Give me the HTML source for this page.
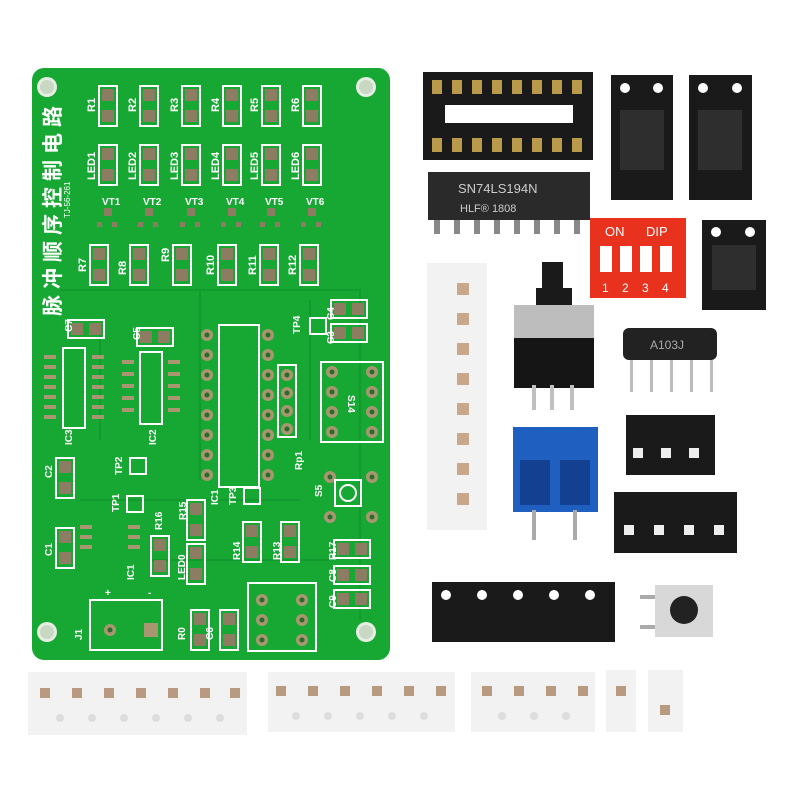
<!DOCTYPE html>
<html><head><meta charset="utf-8"><style>
html,body{margin:0;padding:0;background:#fff;width:800px;height:800px;overflow:hidden}
svg{display:block}
text{font-family:"Liberation Sans","Noto Sans CJK SC",sans-serif}
</style></head><body>
<svg width="800" height="800" viewBox="0 0 800 800" xmlns="http://www.w3.org/2000/svg">
<defs>
<g id="pp"><rect x="-9" y="0" width="18" height="40" fill="none" stroke="#fff" stroke-width="2"/><rect x="-6" y="3" width="12" height="12" fill="#8c7d62"/><rect x="-6" y="24" width="12" height="12" fill="#8c7d62"/></g>
<g id="hp"><rect x="-9" y="0" width="36" height="18" fill="none" stroke="#fff" stroke-width="2"/><rect x="-6" y="3" width="12" height="12" fill="#8c7d62"/><rect x="12" y="3" width="12" height="12" fill="#8c7d62"/></g>
<g id="th"><circle r="6" fill="#a89670"/><circle r="2.5" fill="#2a6a2a"/></g>
</defs>
<!-- PCB -->
<rect x="32" y="68" width="358" height="592" rx="12" fill="#17a834"/>
<g fill="none" stroke="#139a2e" stroke-width="2">
<path d="M60 290 H360 V620 M100 330 V440 M200 290 V480 M310 300 V440 M80 500 H300 M150 560 H330"/>
</g>
<g fill="#e6ede2"><circle cx="47" cy="87" r="10"/><circle cx="366" cy="87" r="10"/><circle cx="47" cy="632" r="10"/><circle cx="366" cy="632" r="10"/></g>
<g fill="#c9d8c2"><circle cx="47" cy="87" r="7"/><circle cx="366" cy="87" r="7"/><circle cx="47" cy="632" r="7"/><circle cx="366" cy="632" r="7"/></g>
<g>
<use href="#pp" x="108" y="86"/><use href="#pp" x="149" y="86"/><use href="#pp" x="191" y="86"/><use href="#pp" x="232" y="86"/><use href="#pp" x="271" y="86"/><use href="#pp" x="312" y="86"/>
<use href="#pp" x="108" y="145"/><use href="#pp" x="149" y="145"/><use href="#pp" x="191" y="145"/><use href="#pp" x="232" y="145"/><use href="#pp" x="271" y="145"/><use href="#pp" x="312" y="145"/>
<use href="#pp" x="99" y="245"/><use href="#pp" x="139" y="245"/><use href="#pp" x="182" y="245"/><use href="#pp" x="227" y="245"/><use href="#pp" x="269" y="245"/><use href="#pp" x="309" y="245"/>
</g>
<g fill="#fff" font-size="10" font-weight="bold">
<text x="102" y="205">VT1</text><text x="143" y="205">VT2</text><text x="185" y="205">VT3</text><text x="226" y="205">VT4</text><text x="265" y="205">VT5</text><text x="306" y="205">VT6</text>
</g>
<g fill="#8c7d62"><rect x="104" y="208" width="8" height="8"/><rect x="145" y="208" width="8" height="8"/><rect x="187" y="208" width="8" height="8"/><rect x="228" y="208" width="8" height="8"/><rect x="267" y="208" width="8" height="8"/><rect x="308" y="208" width="8" height="8"/>
<rect x="97" y="222" width="5" height="5"/><rect x="112" y="222" width="5" height="5"/><rect x="138" y="222" width="5" height="5"/><rect x="153" y="222" width="5" height="5"/><rect x="180" y="222" width="5" height="5"/><rect x="195" y="222" width="5" height="5"/><rect x="221" y="222" width="5" height="5"/><rect x="236" y="222" width="5" height="5"/><rect x="260" y="222" width="5" height="5"/><rect x="275" y="222" width="5" height="5"/><rect x="301" y="222" width="5" height="5"/><rect x="316" y="222" width="5" height="5"/></g>
<g fill="#fff" font-size="11" font-weight="bold">
<text transform="translate(95,112) rotate(-90)">R1</text><text transform="translate(136,112) rotate(-90)">R2</text><text transform="translate(178,112) rotate(-90)">R3</text><text transform="translate(219,112) rotate(-90)">R4</text><text transform="translate(258,112) rotate(-90)">R5</text><text transform="translate(299,112) rotate(-90)">R6</text>
<text transform="translate(95,180) rotate(-90)">LED1</text><text transform="translate(136,180) rotate(-90)">LED2</text><text transform="translate(178,180) rotate(-90)">LED3</text><text transform="translate(219,180) rotate(-90)">LED4</text><text transform="translate(258,180) rotate(-90)">LED5</text><text transform="translate(299,180) rotate(-90)">LED6</text>
<text transform="translate(86,272) rotate(-90)">R7</text><text transform="translate(126,275) rotate(-90)">R8</text><text transform="translate(169,262) rotate(-90)">R9</text><text transform="translate(214,275) rotate(-90)">R10</text><text transform="translate(256,275) rotate(-90)">R11</text><text transform="translate(296,275) rotate(-90)">R12</text>
</g>
<text transform="translate(60,316) rotate(-90)" fill="#fff" font-size="21" font-weight="bold" letter-spacing="6" font-family="Noto Sans CJK SC,sans-serif">脉冲顺序控制电路</text>
<text transform="translate(70,218) rotate(-90)" fill="#fff" font-size="8">TJ-56-261</text>
<rect x="63" y="348" width="22" height="80" fill="none" stroke="#fff" stroke-width="2"/>
<rect x="140" y="352" width="22" height="72" fill="none" stroke="#fff" stroke-width="2"/>
<g fill="#a89670">
<rect x="44" y="355" width="12" height="4"/><rect x="44" y="365" width="12" height="4"/><rect x="44" y="375" width="12" height="4"/><rect x="44" y="385" width="12" height="4"/><rect x="44" y="395" width="12" height="4"/><rect x="44" y="405" width="12" height="4"/><rect x="44" y="415" width="12" height="4"/>
<rect x="92" y="355" width="12" height="4"/><rect x="92" y="365" width="12" height="4"/><rect x="92" y="375" width="12" height="4"/><rect x="92" y="385" width="12" height="4"/><rect x="92" y="395" width="12" height="4"/><rect x="92" y="405" width="12" height="4"/><rect x="92" y="415" width="12" height="4"/>
<rect x="122" y="360" width="12" height="4"/><rect x="122" y="372" width="12" height="4"/><rect x="122" y="384" width="12" height="4"/><rect x="122" y="396" width="12" height="4"/><rect x="122" y="408" width="12" height="4"/>
<rect x="168" y="360" width="12" height="4"/><rect x="168" y="372" width="12" height="4"/><rect x="168" y="384" width="12" height="4"/><rect x="168" y="396" width="12" height="4"/><rect x="168" y="408" width="12" height="4"/>
<rect x="80" y="525" width="12" height="4"/><rect x="80" y="535" width="12" height="4"/><rect x="80" y="545" width="12" height="4"/><rect x="128" y="525" width="12" height="4"/><rect x="128" y="535" width="12" height="4"/><rect x="128" y="545" width="12" height="4"/>
</g>
<use href="#hp" x="77" y="320"/><use href="#hp" x="146" y="328"/><use href="#hp" x="340" y="300"/><use href="#hp" x="340" y="324"/>
<use href="#pp" x="65" y="458"/><use href="#pp" x="65" y="528"/><use href="#pp" x="160" y="536"/><use href="#pp" x="196" y="500"/><use href="#pp" x="196" y="544"/><use href="#pp" x="252" y="522"/><use href="#pp" x="290" y="522"/><use href="#pp" x="200" y="610"/><use href="#pp" x="229" y="610"/>
<use href="#hp" x="343" y="540"/><use href="#hp" x="343" y="566"/><use href="#hp" x="343" y="590"/>
<rect x="219" y="325" width="40" height="162" fill="none" stroke="#fff" stroke-width="2"/>
<g><use href="#th" x="207" y="335"/><use href="#th" x="207" y="355"/><use href="#th" x="207" y="375"/><use href="#th" x="207" y="395"/><use href="#th" x="207" y="415"/><use href="#th" x="207" y="435"/><use href="#th" x="207" y="455"/><use href="#th" x="207" y="475"/>
<use href="#th" x="268" y="335"/><use href="#th" x="268" y="355"/><use href="#th" x="268" y="375"/><use href="#th" x="268" y="395"/><use href="#th" x="268" y="415"/><use href="#th" x="268" y="435"/><use href="#th" x="268" y="455"/><use href="#th" x="268" y="475"/>
<use href="#th" x="287" y="375"/><use href="#th" x="287" y="393"/><use href="#th" x="287" y="411"/><use href="#th" x="287" y="429"/>
<use href="#th" x="332" y="372"/><use href="#th" x="332" y="392"/><use href="#th" x="332" y="412"/><use href="#th" x="332" y="432"/><use href="#th" x="372" y="372"/><use href="#th" x="372" y="392"/><use href="#th" x="372" y="412"/><use href="#th" x="372" y="432"/>
<use href="#th" x="262" y="600"/><use href="#th" x="262" y="620"/><use href="#th" x="262" y="640"/><use href="#th" x="302" y="600"/><use href="#th" x="302" y="620"/><use href="#th" x="302" y="640"/>
<use href="#th" x="330" y="477"/><use href="#th" x="372" y="477"/><use href="#th" x="330" y="517"/><use href="#th" x="372" y="517"/>
</g>
<rect x="278" y="365" width="18" height="72" fill="none" stroke="#fff" stroke-width="2"/>
<rect x="321" y="362" width="62" height="80" fill="none" stroke="#fff" stroke-width="2"/>
<rect x="335" y="480" width="26" height="26" fill="none" stroke="#fff" stroke-width="2"/><circle cx="348" cy="493" r="8" fill="none" stroke="#fff" stroke-width="2"/>
<rect x="248" y="583" width="68" height="68" fill="none" stroke="#fff" stroke-width="2"/>
<rect x="90" y="600" width="72" height="50" fill="none" stroke="#fff" stroke-width="2"/>
<use href="#th" x="110" y="630"/><rect x="144" y="623" width="14" height="14" fill="#a89670"/>
<g fill="#fff" font-size="10" font-weight="bold"><text x="105" y="596">+</text><text x="148" y="596">-</text></g>
<rect x="130" y="458" width="16" height="16" fill="none" stroke="#fff" stroke-width="2"/><rect x="127" y="496" width="16" height="16" fill="none" stroke="#fff" stroke-width="2"/><rect x="244" y="488" width="16" height="16" fill="none" stroke="#fff" stroke-width="2"/><rect x="310" y="318" width="16" height="16" fill="none" stroke="#fff" stroke-width="2"/>
<g fill="#fff" font-size="10" font-weight="bold">
<text transform="translate(72,445) rotate(-90)">IC3</text><text transform="translate(156,445) rotate(-90)">IC2</text><text transform="translate(52,478) rotate(-90)">C2</text><text transform="translate(52,556) rotate(-90)">C1</text><text transform="translate(122,475) rotate(-90)">TP2</text><text transform="translate(119,512) rotate(-90)">TP1</text>
<text transform="translate(218,505) rotate(-90)">IC1</text><text transform="translate(236,505) rotate(-90)">TP3</text><text transform="translate(302,470) rotate(-90)">Rp1</text><text transform="translate(348,395) rotate(90)">S14</text><text transform="translate(322,497) rotate(-90)">S5</text>
<text transform="translate(82,640) rotate(-90)">J1</text><text transform="translate(185,640) rotate(-90)">R0</text><text transform="translate(213,640) rotate(-90)">C6</text><text transform="translate(134,580) rotate(-90)">IC1</text><text transform="translate(185,580) rotate(-90)">LED0</text>
<text transform="translate(162,530) rotate(-90)">R16</text><text transform="translate(186,520) rotate(-90)">R15</text><text transform="translate(240,560) rotate(-90)">R14</text><text transform="translate(280,560) rotate(-90)">R13</text><text transform="translate(336,560) rotate(-90)">R17</text><text transform="translate(336,582) rotate(-90)">C8</text><text transform="translate(336,608) rotate(-90)">C9</text>
<text transform="translate(334,344) rotate(-90)">C3</text><text transform="translate(334,320) rotate(-90)">C4</text><text transform="translate(72,332) rotate(-90)">C7</text><text transform="translate(140,340) rotate(-90)">C5</text><text transform="translate(300,334) rotate(-90)">TP4</text>
</g>
<!-- DIP socket -->
<rect x="423" y="72" width="170" height="88" fill="#1a1a1a"/>
<rect x="445" y="105" width="128" height="18" fill="#fff"/>
<g fill="#b89a4a"><rect x="432" y="80" width="10" height="14"/><rect x="452" y="80" width="10" height="14"/><rect x="472" y="80" width="10" height="14"/><rect x="492" y="80" width="10" height="14"/><rect x="512" y="80" width="10" height="14"/><rect x="532" y="80" width="10" height="14"/><rect x="552" y="80" width="10" height="14"/><rect x="572" y="80" width="10" height="14"/>
<rect x="432" y="138" width="10" height="14"/><rect x="452" y="138" width="10" height="14"/><rect x="472" y="138" width="10" height="14"/><rect x="492" y="138" width="10" height="14"/><rect x="512" y="138" width="10" height="14"/><rect x="532" y="138" width="10" height="14"/><rect x="552" y="138" width="10" height="14"/><rect x="572" y="138" width="10" height="14"/></g>
<rect x="428" y="172" width="162" height="48" fill="#2a2a2a"/>
<g fill="#888"><rect x="434" y="220" width="6" height="14"/><rect x="454" y="220" width="6" height="14"/><rect x="474" y="220" width="6" height="14"/><rect x="494" y="220" width="6" height="14"/><rect x="514" y="220" width="6" height="14"/><rect x="534" y="220" width="6" height="14"/><rect x="554" y="220" width="6" height="14"/><rect x="574" y="220" width="6" height="14"/></g>
<text x="458" y="193" fill="#ccc" font-size="13">SN74LS194N</text><text x="460" y="212" fill="#ccc" font-size="11">HLF®     1808</text>
<rect x="611" y="75" width="62" height="125" fill="#1a1a1a"/><rect x="689" y="75" width="63" height="125" fill="#1a1a1a"/>
<g fill="#fff"><circle cx="625" cy="88" r="5"/><circle cx="658" cy="88" r="5"/><circle cx="703" cy="88" r="5"/><circle cx="737" cy="88" r="5"/></g>
<rect x="620" y="110" width="44" height="60" fill="#2e2e2e"/><rect x="698" y="110" width="44" height="60" fill="#2e2e2e"/>
<rect x="702" y="220" width="64" height="90" fill="#1a1a1a"/><rect x="712" y="245" width="44" height="45" fill="#2e2e2e"/>
<g fill="#fff"><circle cx="716" cy="232" r="5"/><circle cx="750" cy="232" r="5"/></g>
<!-- DIP switch -->
<rect x="590" y="218" width="96" height="80" fill="#e8321e"/>
<text x="605" y="236" fill="#fff" font-size="13">ON</text><text x="646" y="236" fill="#fff" font-size="13">DIP</text>
<g fill="#fff"><rect x="600" y="246" width="12" height="26"/><rect x="620" y="246" width="12" height="26"/><rect x="640" y="246" width="12" height="26"/><rect x="660" y="246" width="12" height="26"/></g>
<g fill="#fff" font-size="12"><text x="602" y="292">1</text><text x="622" y="292">2</text><text x="642" y="292">3</text><text x="662" y="292">4</text></g>
<!-- white tape -->
<rect x="427" y="263" width="60" height="267" fill="#f2f2f2"/>
<g fill="#c8a88a"><rect x="457" y="283" width="12" height="12"/><rect x="457" y="313" width="12" height="12"/><rect x="457" y="343" width="12" height="12"/><rect x="457" y="373" width="12" height="12"/><rect x="457" y="403" width="12" height="12"/><rect x="457" y="433" width="12" height="12"/><rect x="457" y="463" width="12" height="12"/><rect x="457" y="493" width="12" height="12"/></g>
<!-- push switch -->
<rect x="542" y="262" width="21" height="30" fill="#1a1a1a"/><rect x="536" y="288" width="36" height="18" fill="#1a1a1a"/>
<rect x="514" y="305" width="80" height="34" fill="#bdbdbd"/><rect x="514" y="338" width="80" height="50" fill="#151515"/>
<g fill="#c0c0c0"><rect x="532" y="385" width="4" height="25"/><rect x="550" y="385" width="4" height="25"/><rect x="570" y="385" width="4" height="25"/></g>
<!-- resistor network -->
<rect x="623" y="328" width="94" height="32" rx="6" fill="#222"/>
<g fill="#bbb"><rect x="630" y="360" width="3" height="32"/><rect x="650" y="360" width="3" height="32"/><rect x="670" y="360" width="3" height="32"/><rect x="690" y="360" width="3" height="32"/><rect x="710" y="360" width="3" height="32"/></g>
<text x="650" y="349" fill="#aaa" font-size="12">A103J</text>
<!-- terminal -->
<rect x="513" y="427" width="85" height="85" fill="#1f5fbf"/>
<rect x="520" y="460" width="30" height="45" fill="#134090"/><rect x="560" y="460" width="30" height="45" fill="#134090"/>
<g fill="#aaa"><rect x="532" y="510" width="4" height="30"/><rect x="573" y="510" width="4" height="30"/></g>
<!-- LED tapes -->
<rect x="626" y="415" width="89" height="60" fill="#1a1a1a"/>
<g fill="#eee"><rect x="633" y="448" width="10" height="10"/><rect x="661" y="448" width="10" height="10"/><rect x="689" y="448" width="10" height="10"/></g>
<rect x="614" y="492" width="123" height="61" fill="#1a1a1a"/>
<g fill="#eee"><rect x="624" y="525" width="10" height="10"/><rect x="654" y="525" width="10" height="10"/><rect x="684" y="525" width="10" height="10"/><rect x="714" y="525" width="10" height="10"/></g>
<rect x="432" y="582" width="183" height="60" fill="#1a1a1a"/>
<g fill="#fff"><circle cx="446" cy="595" r="5"/><circle cx="482" cy="595" r="5"/><circle cx="518" cy="595" r="5"/><circle cx="554" cy="595" r="5"/><circle cx="590" cy="595" r="5"/></g>
<rect x="655" y="585" width="58" height="52" fill="#d8d8d8"/><circle cx="684" cy="610" r="14" fill="#222"/>
<rect x="640" y="595" width="15" height="4" fill="#aaa"/><rect x="640" y="625" width="15" height="4" fill="#aaa"/>
<g fill="#f2f2f2"><rect x="28" y="672" width="219" height="63"/><rect x="268" y="672" width="187" height="60"/><rect x="471" y="672" width="124" height="60"/><rect x="606" y="670" width="30" height="62"/><rect x="648" y="670" width="35" height="62"/></g>
<g fill="#b89a80"><rect x="40" y="688" width="10" height="10"/><rect x="72" y="688" width="10" height="10"/><rect x="104" y="688" width="10" height="10"/><rect x="136" y="688" width="10" height="10"/><rect x="168" y="688" width="10" height="10"/><rect x="200" y="688" width="10" height="10"/><rect x="230" y="688" width="10" height="10"/>
<rect x="276" y="686" width="10" height="10"/><rect x="308" y="686" width="10" height="10"/><rect x="340" y="686" width="10" height="10"/><rect x="372" y="686" width="10" height="10"/><rect x="404" y="686" width="10" height="10"/><rect x="436" y="686" width="10" height="10"/>
<rect x="482" y="686" width="10" height="10"/><rect x="514" y="686" width="10" height="10"/><rect x="546" y="686" width="10" height="10"/><rect x="578" y="686" width="10" height="10"/><rect x="616" y="686" width="10" height="10"/><rect x="660" y="705" width="10" height="10"/></g>
<g fill="#ddd"><circle cx="60" cy="718" r="4"/><circle cx="92" cy="718" r="4"/><circle cx="124" cy="718" r="4"/><circle cx="156" cy="718" r="4"/><circle cx="188" cy="718" r="4"/><circle cx="220" cy="718" r="4"/><circle cx="296" cy="716" r="4"/><circle cx="328" cy="716" r="4"/><circle cx="360" cy="716" r="4"/><circle cx="392" cy="716" r="4"/><circle cx="424" cy="716" r="4"/><circle cx="502" cy="716" r="4"/><circle cx="534" cy="716" r="4"/><circle cx="566" cy="716" r="4"/></g>
</svg>
</body></html>
